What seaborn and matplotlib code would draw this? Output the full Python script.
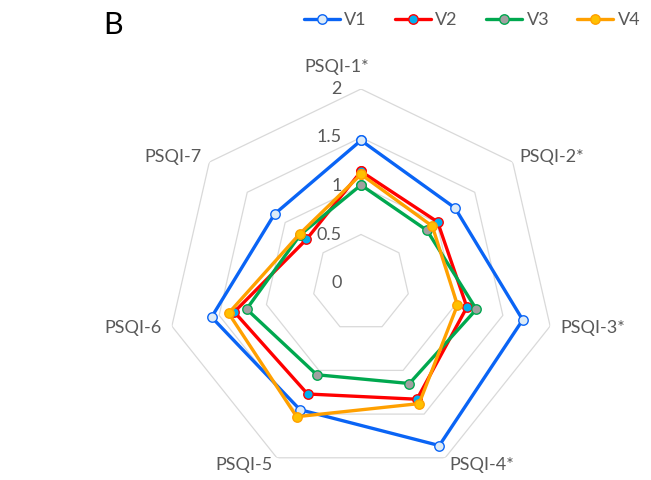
import numpy as np
import pandas as pd
import matplotlib
matplotlib.use("Agg")
import matplotlib.pyplot as plt
import seaborn as sns

sns.set_style("white")
plt.rcParams['font.family'] = ['Lato', 'DejaVu Sans']

categories = ["PSQI-1*", "PSQI-2*", "PSQI-3*", "PSQI-4*", "PSQI-5", "PSQI-6", "PSQI-7"]
v1 = [1.47, 1.24, 1.71, 1.86, 1.45, 1.58, 1.14]
v2 = [1.15, 1.01, 1.12, 1.33, 1.27, 1.34, 0.72]
v3 = [1.01, 0.87, 1.22, 1.15, 1.05, 1.21, 0.80]
v4 = [1.12, 0.94, 1.02, 1.38, 1.53, 1.40, 0.81]
series_names = ["V1", "V2", "V3", "V4"]
r_ticks = [0, 0.5, 1, 1.5, 2]
r_tick_labels = ["0", "0.5", "1", "1.5", "2"]

line_colors = ["#0A64F5", "#FF0000", "#00A84F", "#FFA000"]
face_colors = ["#DDEBF7", "#00B0F0", "#A0A0A0", "#FFC000"]
edge_colors = ["#0A64F5", "#FF0000", "#00A84F", "#FFA000"]
text_color = "#595959"
grid_color = "#D9D9D9"

n = len(categories)
theta = np.arange(n) * 2 * np.pi / n
theta_closed = np.append(theta, theta[0])

rows = []
for name, vals in zip(series_names, [v1, v2, v3, v4]):
    closed = list(vals) + [vals[0]]
    for i, (t, v) in enumerate(zip(theta_closed, closed)):
        rows.append({"series": name, "order": i, "theta": t, "value": v})
df = pd.DataFrame(rows)

fig = plt.figure(figsize=(6.51, 4.80), dpi=100)
cx, cy, R = 361, 283, 194
W, H = 651, 480
ax = fig.add_axes([(cx - R) / W, (H - cy - R) / H, 2 * R / W, 2 * R / H], projection="polar")
ax.set_theta_offset(np.pi / 2)
ax.set_theta_direction(-1)
ax.set_ylim(0, 2)
ax.set_xticks([])
ax.set_yticks([])
ax.grid(False)
ax.spines["polar"].set_visible(False)
ax.patch.set_alpha(0)

# heptagon gridlines
for r in r_ticks[1:]:
    ax.plot(theta_closed, [r] * (n + 1), color=grid_color, lw=0.9, zorder=1)

handles = []
for k, name in enumerate(series_names):
    sub = df[df.series == name].sort_values("order")
    sns.lineplot(data=sub, x="theta", y="value", sort=False, estimator=None, ax=ax,
                 color=line_colors[k], lw=2.4, marker="o", markersize=6.8,
                 markerfacecolor=face_colors[k], markeredgecolor=edge_colors[k],
                 markeredgewidth=1.0, label=name, zorder=3 + k, legend=False)
    handles.append(ax.lines[-1])

# radial tick labels
for r, lab in zip(r_ticks, r_tick_labels):
    ax.annotate(lab, xy=(0, r), xytext=(-13.7, 0), textcoords="offset points",
                ha="right", va="center", fontsize=13, color=text_color)

# category labels
label_offsets = [(-17.3, 15.8), (5, 3.6), (7.2, -1.4), (2.9, -5), (-2.9, -5), (-7.2, -1.4), (-5.8, 3.6)]
label_ha = ["center", "left", "left", "left", "right", "right", "right"]
for t, lab, off, ha in zip(theta, categories, label_offsets, label_ha):
    ax.annotate(lab, xy=(t, 2), xytext=off, textcoords="offset points",
                ha=ha, va="center", fontsize=13, color=text_color, annotation_clip=False)

leg = fig.legend(handles, series_names, loc="center", bbox_to_anchor=(472 / W, 1 - 20 / H),
                 ncol=4, frameon=False, fontsize=13, handlelength=2.0,
                 handletextpad=0.25, columnspacing=1.55)
for t in leg.get_texts():
    t.set_color(text_color)

fig.text(103 / W, 1 - 25 / H, "B", ha="left", va="center", fontsize=22, color="black")

fig.savefig("out.png", dpi=100)
